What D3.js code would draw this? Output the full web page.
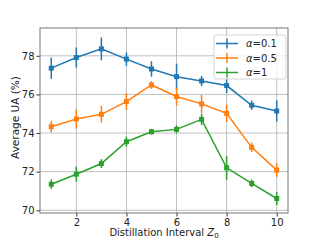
<!DOCTYPE html>
<html>
<head>
<meta charset="utf-8">
<script src="https://cdn.jsdelivr.net/npm/d3@7"></script>
<style>
body { margin: 0; background: #fff; }
text { font-family: "DejaVu Sans", sans-serif; }
</style>
</head>
<body>
<svg width="320" height="240"></svg>
<script>
// data
var intervals = [1, 2, 3, 4, 5, 6, 7, 8, 9, 10];
var labels = ["\u03b1=0.1", "\u03b1=0.5", "\u03b1=1"];
var colors = ["#1f77b4", "#ff7f0e", "#2ca02c"];
var mean01 = [77.36, 77.91, 78.36, 77.83, 77.32, 76.92, 76.70, 76.46, 75.44, 75.14];
var err01  = [0.55, 0.52, 0.59, 0.35, 0.40, 0.67, 0.26, 0.39, 0.24, 0.55];
var mean05 = [74.33, 74.73, 74.97, 75.63, 76.49, 75.89, 75.51, 75.02, 73.26, 72.08];
var err05  = [0.30, 0.50, 0.43, 0.43, 0.20, 0.46, 0.47, 0.45, 0.24, 0.35];
var mean1  = [71.35, 71.87, 72.42, 73.55, 74.07, 74.19, 74.71, 72.20, 71.39, 70.61];
var err1   = [0.25, 0.39, 0.23, 0.26, 0.15, 0.20, 0.30, 0.62, 0.20, 0.35];
var xTicks = [2, 4, 6, 8, 10];
var yTicks = [70, 72, 74, 76, 78];

var series = [
    {name: labels[0], color: colors[0], mean: mean01, err: err01},
    {name: labels[1], color: colors[1], mean: mean05, err: err05},
    {name: labels[2], color: colors[2], mean: mean1, err: err1}
];

var svg = d3.select("svg");
var plotL = 40, plotR = 288, plotT = 28, plotB = 213;

var x = d3.scaleLinear().domain([0.55, 10.45]).range([plotL, plotR]);
var y = d3.scaleLinear().domain([69.86, 79.44]).range([plotB, plotT]);

// GRID
var grid = svg.append("g");
grid.selectAll(".gx").data(xTicks).enter().append("line")
    .attr("x1", function(d) { return x(d); })
    .attr("x2", function(d) { return x(d); })
    .attr("y1", plotT).attr("y2", plotB)
    .attr("stroke", "#b0b0b0").attr("stroke-width", 0.8);
grid.selectAll(".gy").data(yTicks).enter().append("line")
    .attr("y1", function(d) { return y(d); })
    .attr("y2", function(d) { return y(d); })
    .attr("x1", plotL).attr("x2", plotR)
    .attr("stroke", "#b0b0b0").attr("stroke-width", 0.8);

// SERIES
series.forEach(function(s) {
    var g = svg.append("g");
    var pts = intervals.map(function(v, i) { return {x: v, y: s.mean[i], e: s.err[i]}; });
    g.append("path")
	.datum(pts)
	.attr("fill", "none")
	.attr("stroke", s.color)
	.attr("stroke-width", 1.5)
	.attr("d", d3.line()
	      .x(function(d) { return x(d.x); })
	      .y(function(d) { return y(d.y); }));
    g.selectAll(".eb").data(pts).enter().append("line")
	.attr("x1", function(d) { return x(d.x); })
	.attr("x2", function(d) { return x(d.x); })
	.attr("y1", function(d) { return y(d.y - d.e); })
	.attr("y2", function(d) { return y(d.y + d.e); })
	.attr("stroke", s.color)
	.attr("stroke-width", 1.5);
    g.selectAll(".mk").data(pts).enter().append("rect")
	.attr("x", function(d) { return x(d.x) - 2.5; })
	.attr("y", function(d) { return y(d.y) - 2.5; })
	.attr("width", 5).attr("height", 5)
	.attr("fill", s.color);
});

// AXES
var xAxis = svg.append("g")
    .attr("transform", "translate(0," + plotB + ")")
    .call(d3.axisBottom(x).tickValues(xTicks).tickSize(3.5).tickPadding(2));
var yAxis = svg.append("g")
    .attr("transform", "translate(" + plotL + ",0)")
    .call(d3.axisLeft(y).tickValues(yTicks).tickSize(3.5).tickPadding(2));
[xAxis, yAxis].forEach(function(a) {
    a.select(".domain").remove();
    a.selectAll("line").attr("stroke", "#333");
    a.selectAll("text").attr("font-size", 10).attr("fill", "#222")
	.attr("font-family", "DejaVu Sans");
});

svg.append("rect")
    .attr("x", plotL).attr("y", plotT)
    .attr("width", plotR - plotL).attr("height", plotB - plotT)
    .attr("fill", "none").attr("stroke", "#777").attr("stroke-width", 1);

// LABELS
svg.append("text")
    .attr("transform", "translate(19," + ((plotT + plotB) / 2 - 3) + ") rotate(-90)")
    .attr("text-anchor", "middle")
    .attr("font-size", 10.5)
    .attr("fill", "#222")
    .text("Average UA (%)");

var xl = svg.append("text")
    .attr("x", (plotL + plotR) / 2).attr("y", 236)
    .attr("text-anchor", "middle")
    .attr("font-size", 10)
    .attr("fill", "#222");
xl.append("tspan").text("Distillation Interval ");
xl.append("tspan").attr("font-style", "italic").text("Z");
xl.append("tspan").attr("font-size", 7).attr("dy", 1.5).text("0");

// LEGEND
var lg = svg.append("g");
lg.append("rect")
    .attr("x", 214).attr("y", 35).attr("width", 72).attr("height", 44).attr("rx", 2)
    .attr("fill", "#fff").attr("fill-opacity", 0.8)
    .attr("stroke", "#ccc").attr("stroke-width", 0.8);
series.forEach(function(s, i) {
    var ly = 43.5 + i * 14.5;
    lg.append("line").attr("x1", 216).attr("x2", 238).attr("y1", ly).attr("y2", ly)
	.attr("stroke", s.color).attr("stroke-width", 1.5);
    lg.append("line").attr("x1", 227).attr("x2", 227).attr("y1", ly - 5).attr("y2", ly + 5)
	.attr("stroke", s.color).attr("stroke-width", 1.5);
    var t = lg.append("text").attr("x", 246).attr("y", ly + 3.5)
	.attr("font-size", 10).attr("fill", "#222");
    t.append("tspan").attr("font-style", "italic").text(s.name.charAt(0));
    t.append("tspan").text(s.name.slice(1));
});
</script>
</body>
</html>
